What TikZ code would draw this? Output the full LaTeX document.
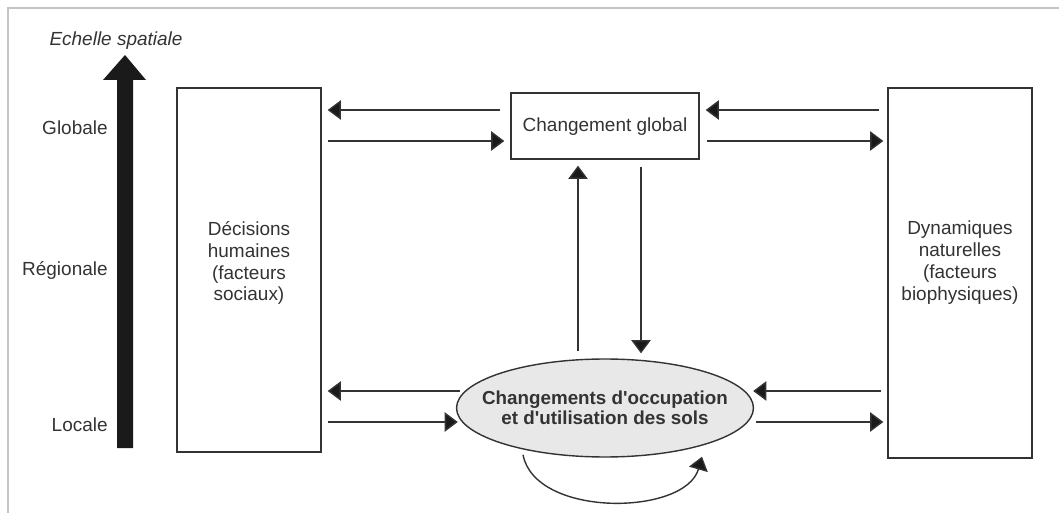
\documentclass[tikz,border=0pt]{standalone}
\usepackage{fontspec}
\defaultfontfeatures{Ligatures=TeXOff}
\setmainfont{Liberation Sans}[Ligatures=TeXOff]
\usetikzlibrary{arrows.meta,calc,shapes.geometric}
\definecolor{ink}{HTML}{333333}
\definecolor{tipc}{HTML}{1A1A1A}
\definecolor{framec}{HTML}{C4C4C4}
\definecolor{ellfill}{HTML}{E8E8E8}
\tikzset{
  box/.style={draw=ink, line width=0.8pt, rectangle, inner sep=0pt},
  txt/.style={inner sep=0pt, align=center, text=ink, font=\fontsize{10.8}{12.5}\selectfont},
  arr/.style={draw=ink, line width=0.8pt, -{Triangle[length=7.5pt,width=11pt,fill=tipc]}},
  lbl/.style={text=ink, font=\fontsize{10.8}{12}\selectfont, inner sep=0pt}
}
\begin{document}
\begin{tikzpicture}[x=0.02cm,y=-0.02cm]
\useasboundingbox (0,0) rectangle (1059,513);
% frame
\draw[framec, line width=0.8pt] (8,513) -- (8,8) -- (1059,8);
% scale arrow
\fill[tipc] (117,448) -- (117,80) -- (103,80) -- (125,55) -- (146,80) -- (133,80) -- (133,448) -- cycle;
\node[lbl, font=\fontsize{10.8}{12}\selectfont\itshape] (ech) at (116,41) {Echelle spatiale};
\node[lbl, anchor=east] (glob) at (108,128) {Globale};
\node[lbl, anchor=east] (reg) at (108,270) {Régionale};
\node[lbl, anchor=east] (loc) at (108,425) {Locale};
% boxes
\node[box, minimum width=2.88cm, minimum height=7.28cm] (lb) at (249,270) {};
\node[txt] (lbt) at (249,263) {Décisions\\humaines\\(facteurs\\sociaux)};
\node[box, minimum width=2.88cm, minimum height=7.40cm] (rb) at (960,273) {};
\node[txt] (rbt) at (960,263) {Dynamiques\\naturelles\\(facteurs\\biophysiques)};
\node[box, minimum width=3.76cm, minimum height=1.32cm] (cg) at (605,126) {};
\node[txt] (cgt) at (605,127) {Changement global};
\node[ellipse, draw=ink, line width=0.8pt, fill=ellfill, minimum width=5.94cm, minimum height=1.96cm, inner sep=0pt] (ell) at (605,408) {};
\node[txt, font=\fontsize{10.7}{11.7}\bfseries\selectfont] (ellt) at (605,408) {Changements d'occupation\\et d'utilisation des sols};
% top arrows
\draw[arr] ($(cg.west|-0,110)+(-10,0)$) -- ($(lb.east|-0,110)+(6,0)$);
\draw[arr] ($(lb.east|-0,141)+(6,0)$) -- ($(cg.west|-0,141)+(-6,0)$);
\draw[arr] ($(rb.west|-0,110)+(-8,0)$) -- ($(cg.east|-0,110)+(6,0)$);
\draw[arr] ($(cg.east|-0,141)+(7,0)$) -- ($(rb.west|-0,141)+(-4,0)$);
% vertical arrows
\draw[arr] ($(ell.north-|578,0)+(0,-7)$) -- ($(cg.south-|578,0)+(0,6)$);
\draw[arr] ($(cg.south-|641,0)+(0,7)$) -- ($(ell.north-|641,0)+(0,-5)$);
% bottom arrows
\draw[arr] ($(ell.west|-0,391)+(4,0)$) -- ($(lb.east|-0,391)+(6,0)$);
\draw[arr] ($(lb.east|-0,422)+(6,0)$) -- ($(ell.west|-0,422)+(2,0)$);
\draw[arr] ($(rb.west|-0,391)+(-6,0)$) -- ($(ell.east|-0,391)+(-1,0)$);
\draw[arr] ($(ell.east|-0,422)+(2,0)$) -- ($(rb.west|-0,422)+(-4,0)$);
% loop
\coordinate (lpA) at ($(ell.south)+(-82,-3)$);
\coordinate (lpB) at ($(ell.south)+(97,-1)$);
\draw[arr] (lpA) .. controls (535,518) and (685,516) .. (lpB);
\end{tikzpicture}
\end{document}
